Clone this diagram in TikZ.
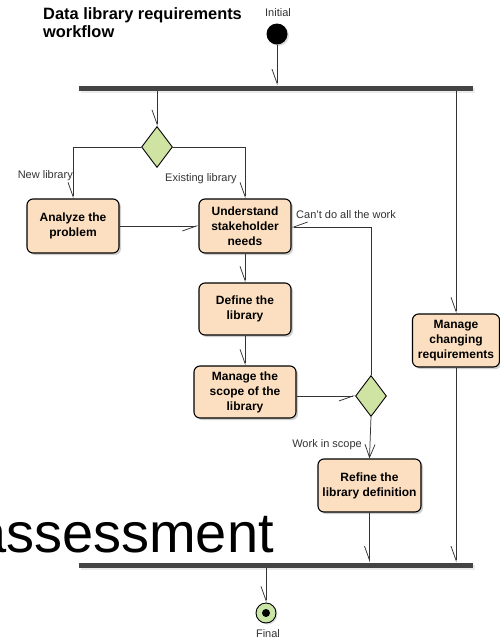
\documentclass[tikz,border=0pt]{standalone}
\usepackage{fontspec}
\setmainfont{Liberation Sans}
\usetikzlibrary{arrows.meta,shapes.geometric,shadows}
\definecolor{peach}{HTML}{FCDFC0}
\definecolor{dgreen}{HTML}{CFE4A2}
\definecolor{fgreen}{HTML}{C9E6A6}
\definecolor{barc}{HTML}{444444}
\definecolor{linec}{HTML}{333333}
\tikzset{
  act/.style={draw=black, line width=1.1pt, fill=peach, rounded corners=6pt, align=center,
    font=\fontsize{12}{15}\selectfont\bfseries, inner sep=0pt,
    drop shadow={shadow xshift=2pt, shadow yshift=-2pt, fill=black!30, opacity=0.6}},
  dec/.style={diamond, draw=black, line width=0.9pt, fill=dgreen, inner sep=0pt,
    minimum width=31pt, minimum height=41pt},
  bar/.style={rectangle, fill=barc, inner sep=0pt, minimum height=5pt,
    drop shadow={shadow xshift=2pt, shadow yshift=-2pt, fill=black!15}},
  lbl/.style={font=\fontsize{11}{12}\selectfont, text=black!80, inner sep=0pt},
  conn/.style={draw=linec, line width=0.75pt},
  arr/.style={conn, -{Straight Barb[harpoon, swap, length=14pt, width=10pt, line width=0.75pt]}},
  varr/.style={conn, -{Straight Barb[length=13pt, width=10pt, line width=0.75pt]}},
}
\begin{document}
\begin{tikzpicture}[x=1pt, y=-1pt]
\useasboundingbox (0,0) rectangle (500,641);
\fill[white] (0,0) rectangle (500,641);

% title
\node[anchor=north west, align=left, inner sep=0pt, font=\fontsize{16.4}{18.5}\selectfont\bfseries] (title) at (43,7) {Data library requirements\\workflow};

% big text
\node[anchor=base east, inner sep=0pt, font=\fontsize{56}{60}\selectfont] (big) at (274,552) {assessment};

% initial
\node[lbl] (initlbl) at (278,13) {Initial};
\node[circle, fill=black, minimum size=21pt, inner sep=0pt,
  drop shadow={shadow xshift=1.5pt, shadow yshift=-1.5pt, fill=black!25}] (initial) at (277,34) {};

% bars
\node[bar, minimum width=394pt] (fork) at (276,88) {};
\node[bar, minimum width=394pt] (join) at (276,565) {};

% decisions
\node[dec] (d1) at (157,147) {};
\node[dec] (d2) at (371,396) {};

% activities
\node[act, minimum width=92pt, minimum height=54pt] (analyze) at (73,226) {Analyze the\\problem};
\node[act, minimum width=92pt, minimum height=54pt] (understand) at (245,226) {Understand\\stakeholder\\needs};
\node[act, minimum width=92pt, minimum height=52pt] (define) at (245,309) {Define the\\library};
\node[act, minimum width=102pt, minimum height=52pt] (scope) at (245,392) {Manage the\\scope of the\\library};
\node[act, minimum width=103pt, minimum height=53pt] (refine) at (369.5,485.5) {Refine the\\library definition};
\node[act, minimum width=87pt, minimum height=53pt] (changing) at (456,340.5) {Manage\\changing\\requirements};

% final
\node[circle, draw=black, line width=0.9pt, fill=fgreen, minimum size=20pt, inner sep=0pt,
  drop shadow={shadow xshift=1.5pt, shadow yshift=-1.5pt, fill=black!25}] (final) at (266,613) {};
\node[circle, fill=black, minimum size=8pt, inner sep=0pt] (finaldot) at (final.center) {};
\node[lbl] (finallbl) at (268,634) {Final};

% connectors
\draw[arr] (initial.south) -- (initial.south |- fork.north);
\draw[arr] (d1.north |- fork.south) -- (d1.north);
\draw[arr] (d1.west) -| (analyze.north);
\draw[arr] (d1.east) -| (understand.north);
\draw[arr] (analyze.east) -- (understand.west);
\draw[arr] (understand.south) -- (define.north);
\draw[arr] (define.south) -- (scope.north);
\draw[arr] (scope.east |- d2.west) -- (d2.west);
\draw[arr] (d2.north) |- ([yshift=-1pt]understand.east);
\draw[varr] (d2.south) -- (refine.north);
\draw[arr] (refine.south) -- (refine.south |- join.north);
\draw[arr] (changing.north |- fork.south) -- (changing.north);
\draw[arr] (changing.south) -- (changing.south |- join.north);
\draw[arr] (final.north |- join.south) -- (final.north);

% connector labels
\node[lbl, anchor=east] (newlbl) at (73,176) {New library};
\node[lbl] (existlbl) at (201,179) {Existing library};
\node[lbl, anchor=west] (cantlbl) at (296,215) {Can't do all the work};
\node[lbl, anchor=east] (scopelbl) at (362,445) {Work in scope};
\end{tikzpicture}
\end{document}
